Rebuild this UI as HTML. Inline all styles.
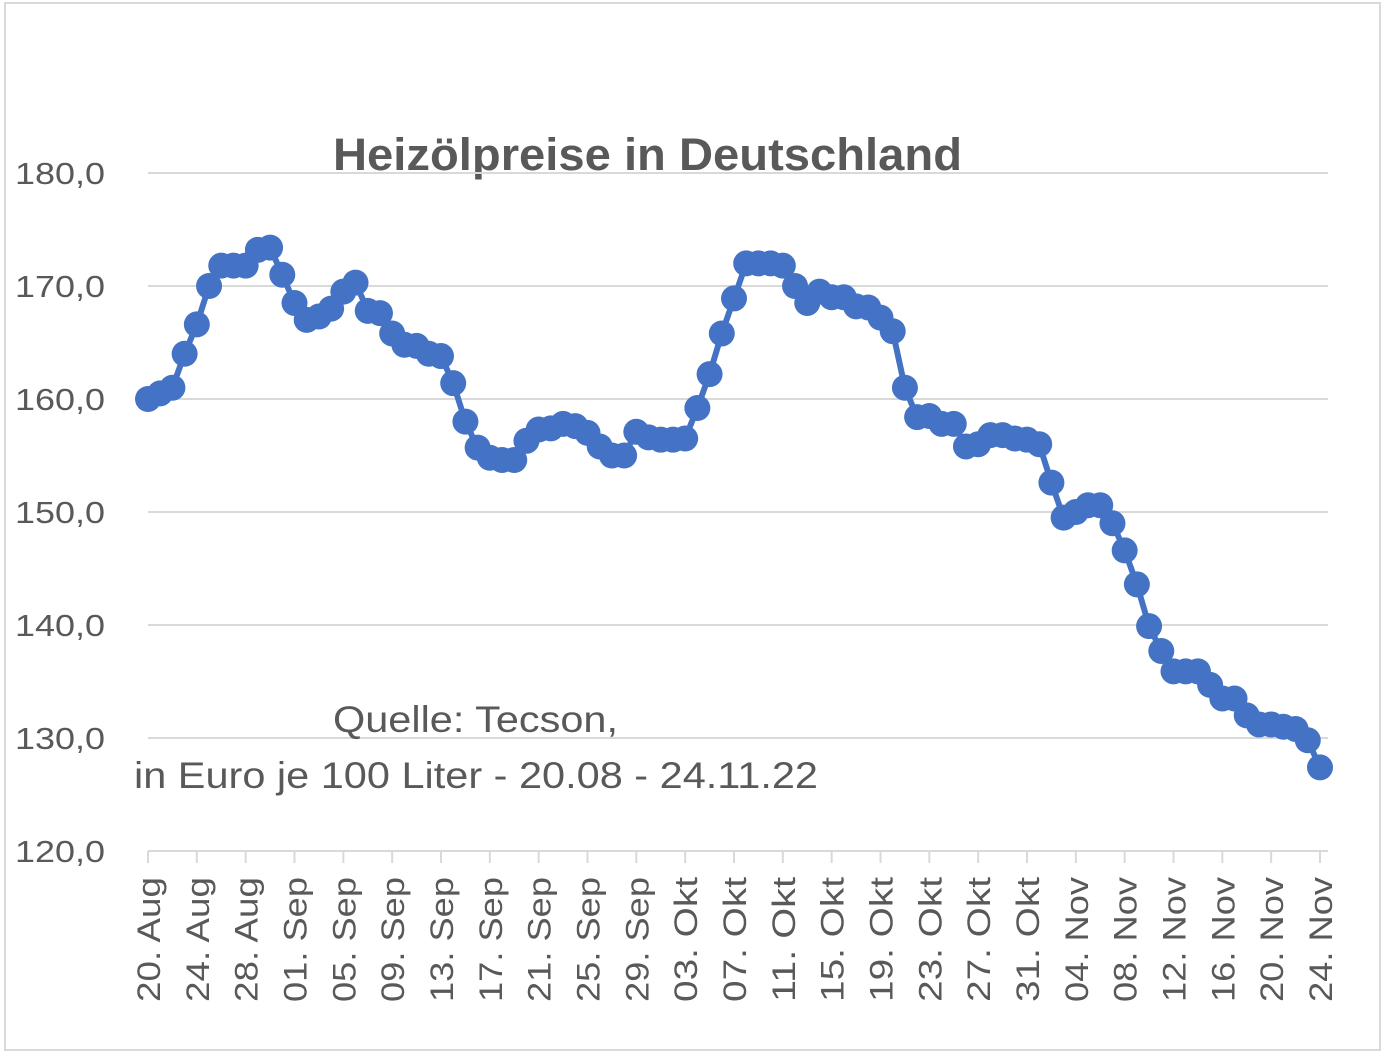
<!DOCTYPE html>
<html><head><meta charset="utf-8"><style>
body{margin:0;background:#fff}
svg{display:block;font-family:"Liberation Sans",sans-serif}
</style></head><body>
<svg id="c" width="1388" height="1058" viewBox="0 0 1388 1058">
<rect x="5" y="3" width="1375" height="1047" fill="#fff" stroke="#d9d9d9" stroke-width="2"/>
<text x="333" y="170" font-size="45" font-weight="bold" fill="#595959" textLength="629" lengthAdjust="spacingAndGlyphs">Heizölpreise in Deutschland</text>
<g id="grid"></g><g id="xax"></g><g id="series"></g>
<text x="333" y="732" font-size="37" fill="#595959" textLength="285" lengthAdjust="spacingAndGlyphs">Quelle: Tecson,</text>
<text x="134" y="788" font-size="37" fill="#595959" textLength="684" lengthAdjust="spacingAndGlyphs">in Euro je 100 Liter - 20.08 - 24.11.22</text>
</svg>
<script>
const yTicks=[120,130,140,150,160,170,180];
const yTickLabels=["120,0","130,0","140,0","150,0","160,0","170,0","180,0"];
const xTickLabels=["20. Aug","24. Aug","28. Aug","01. Sep","05. Sep","09. Sep","13. Sep","17. Sep","21. Sep","25. Sep","29. Sep","03. Okt","07. Okt","11. Okt","15. Okt","19. Okt","23. Okt","27. Okt","31. Okt","04. Nov","08. Nov","12. Nov","16. Nov","20. Nov","24. Nov"];
const prices=[160,160.5,161,164,166.6,170,171.8,171.8,171.8,173.2,173.4,171,168.5,167,167.3,168,169.5,170.3,167.8,167.6,165.8,164.8,164.7,164,163.8,161.4,158,155.7,154.8,154.6,154.6,156.3,157.3,157.4,157.8,157.6,157,155.8,155,155,157.1,156.6,156.4,156.4,156.5,159.2,162.2,165.8,168.9,172,172,172,171.8,170,168.5,169.5,169,169,168.2,168.1,167.2,166,161,158.4,158.5,157.8,157.8,155.8,156,156.8,156.8,156.5,156.4,156,152.6,149.5,150,150.6,150.6,149,146.6,143.6,139.9,137.7,135.9,135.9,135.9,134.7,133.5,133.5,132,131.2,131.2,131,130.8,129.8,127.4];
const NS="http://www.w3.org/2000/svg";
const x0=148,x1=1320,yMin=120,yMax=180,py0=851,py1=173;
const X=i=>x0+i*(x1-x0)/(prices.length-1);
const Y=v=>py0+(v-yMin)*(py1-py0)/(yMax-yMin);
function mk(t,a,p){const e=document.createElementNS(NS,t);for(const k in a)e.setAttribute(k,a[k]);p.appendChild(e);return e;}
const grid=document.getElementById('grid'),xax=document.getElementById('xax'),ser=document.getElementById('series');
yTicks.forEach((v,k)=>{
 if(k>0){const l=mk('line',{x1:148,x2:1328,y1:Y(v),y2:Y(v),stroke:'#d9d9d9','stroke-width':2},grid);
 
 }
 const t=mk('text',{x:15,y:Y(v)+11,'font-size':31,fill:'#595959',textLength:90,lengthAdjust:'spacingAndGlyphs'},grid);
 t.textContent=yTickLabels[k];
 
 
});
const ax=mk('line',{x1:148,x2:1328,y1:Y(120),y2:Y(120),stroke:'#d9d9d9','stroke-width':2},xax);


xTickLabels.forEach((s,k)=>{
 const x=X(k*4);
 const tk=mk('line',{x1:x,x2:x,y1:Y(120),y2:Y(120)+12,stroke:'#d9d9d9','stroke-width':2},xax);
 
 
 const t=mk('text',{x:0,y:0,'font-size':32,fill:'#595959',textLength:125,lengthAdjust:'spacingAndGlyphs',transform:`translate(${x+12},1002) rotate(-90)`},xax);
 t.textContent=s;
 
 
});
const ln=mk('polyline',{points:prices.map((v,i)=>X(i)+','+Y(v)).join(' '),fill:'none',stroke:'#4472c4','stroke-width':6,'stroke-linejoin':'round'},ser);


prices.forEach((v,i)=>{
 const c=mk('circle',{cx:X(i),cy:Y(v),r:13,fill:'#4472c4'},ser);
 
 
});
</script>
</body></html>
